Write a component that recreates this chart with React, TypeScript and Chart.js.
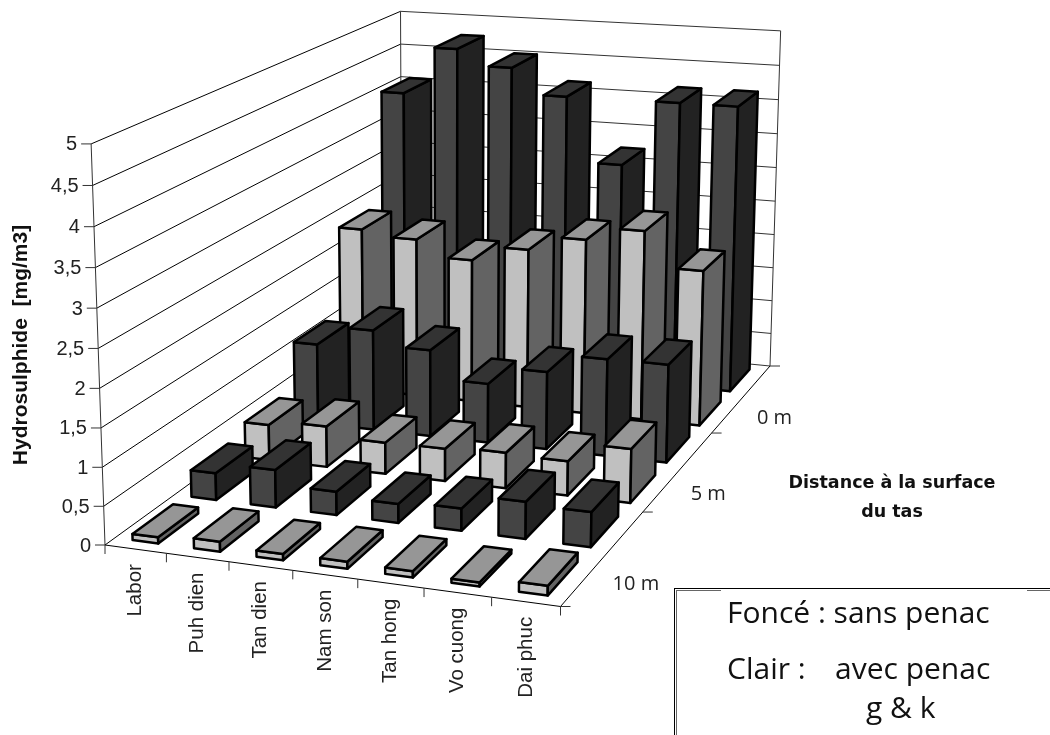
import React, { useEffect, useRef } from "react";
import { Chart, BarController, BarElement, CategoryScale, LinearScale } from "chart.js";

// ---------- data ----------
const categories = ["Labor", "Puh dien", "Tan dien", "Nam son", "Tan hong", "Vo cuong", "Dai phuc"];
const depthRows = ["10 m clair", "10 m foncé", "5 m clair", "5 m foncé", "0 m clair", "0 m foncé"];
const depthTickLabels = ["10 m", "5 m", "0 m"];
const valueTicks = ["0", "0,5", "1", "1,5", "2", "2,5", "3", "3,5", "4", "4,5", "5"];
const row10Light = [0.08, 0.13, 0.08, 0.09, 0.08, 0.05, 0.12];
const row10Dark = [0.36, 0.5, 0.31, 0.25, 0.29, 0.48, 0.45];
const row5Light = [0.49, 0.56, 0.43, 0.44, 0.48, 0.46, 0.72];
const row5Dark = [1.14, 1.42, 1.22, 0.83, 1.08, 1.34, 1.35];
const row0Light = [2.38, 2.3, 2.07, 2.29, 2.5, 2.69, 2.2];
const row0Dark = [4.04, 4.74, 4.51, 4.14, 3.2, 4.15, 4.15];
const yTitle = "Hydrosulphide  [mg/m3]";
const depthTitle = ["Distance à la surface", "du tas"];
const noteLines = ["Foncé : sans penac", "Clair :", "avec penac", "g & k"];

// ---------- projection of the unit cube (u along categories, d along depth, v along values) ----------
const A = [105, 545], B = [560.5, 606.5], C = [770, 366], D = [402, 330];
const E = [90, 143], G = [402, 10], H = [780, 33];
function makeProjection() {
  const dx1 = B[0] - C[0], dx2 = D[0] - C[0], sx = A[0] - B[0] + C[0] - D[0];
  const dy1 = B[1] - C[1], dy2 = D[1] - C[1], sy = A[1] - B[1] + C[1] - D[1];
  const den = dx1 * dy2 - dy1 * dx2;
  const g = (sx * dy2 - sy * dx2) / den, h = (dx1 * sy - dy1 * sx) / den;
  const a = B[0] - A[0] + g * B[0], b = D[0] - A[0] + h * D[0], c = A[0];
  const d = B[1] - A[1] + g * B[1], e = D[1] - A[1] + h * D[1], f = A[1];
  const wA = 1, wC = g + h + 1, wD = h + 1;
  // least squares for the vertical column (p, q, r)
  const rows: number[][] = [];
  ([[E, A, wA], [G, D, wD], [H, C, wC]] as any[]).forEach(([t, base, w]) => {
    rows.push([1, 0, -t[0], (t[0] - base[0]) * w]);
    rows.push([0, 1, -t[1], (t[1] - base[1]) * w]);
  });
  const M = [0, 1, 2].map((i) => [0, 1, 2, 3].map((k) => rows.reduce((acc, row) => acc + row[i] * row[k], 0)));
  for (let i = 0; i < 3; i++) {
    for (let m = 0; m < 3; m++) {
      if (m === i) continue;
      const ratio = M[m][i] / M[i][i];
      for (let k = 0; k < 4; k++) M[m][k] -= ratio * M[i][k];
    }
  }
  const p = M[0][3] / M[0][0], q = M[1][3] / M[1][1], r = M[2][3] / M[2][2];
  return (u: number, dd: number, v: number): [number, number] => {
    const w = g * u + h * dd + 1 + r * v;
    return [(a * u + b * dd + c + p * v) / w, (d * u + e * dd + f + q * v) / w];
  };
}
const project = makeProjection();

const BAR_WIDTH = 0.42;
const BAR_DEPTH = 0.68;
const LIGHT = { front: "#c0c0c0", side: "#636363", top: "#969696" };
const DARK = { front: "#444444", side: "#222222", top: "#333333" };
const SANS = '"Liberation Sans"';
const HUMAN = '"Open Sans"';

function norm(chart: any) {
  const { x, y, depth } = chart.scales;
  const area = chart.chartArea;
  return {
    u: (i: number) => (x.getPixelForValue(i) - area.left) / (area.right - area.left),
    d: (j: number) => (depth.getPixelForValue(j) - area.left) / (area.right - area.left),
    v: (val: number) => (area.bottom - y.getPixelForValue(val)) / (area.bottom - area.top),
  };
}

function poly(ctx: CanvasRenderingContext2D, pts: [number, number][], fill: string) {
  ctx.beginPath();
  pts.forEach((p, i) => (i ? ctx.lineTo(p[0], p[1]) : ctx.moveTo(p[0], p[1])));
  ctx.closePath();
  ctx.fillStyle = fill;
  ctx.fill();
  ctx.stroke();
}

class Box3DController extends BarController {
  static id = "box3d";
  static defaults = { ...(BarController as any).defaults };
  static overrides = (BarController as any).overrides;
  draw() {
    const chart: any = this.chart;
    const ctx: CanvasRenderingContext2D = chart.ctx;
    const n = norm(chart);
    const j = this.index;
    const faces = (this.getDataset() as any).faces;
    const halfU = BAR_WIDTH / 2, halfD = BAR_DEPTH / 2;
    ctx.save();
    ctx.strokeStyle = "#000";
    ctx.lineWidth = 2.5;
    ctx.lineJoin = "round";
    const count = this.getMeta().data.length;
    for (let i = 0; i < count; i++) {
      const parsed: any = this.getParsed(i);
      const u0 = n.u(i - halfU), u1 = n.u(i + halfU);
      const d0 = n.d(j - halfD), d1 = n.d(j + halfD);
      const v = n.v(parsed.y), b = n.v(0);
      poly(ctx, [project(u0, d0, b), project(u1, d0, b), project(u1, d0, v), project(u0, d0, v)], faces.front);
      poly(ctx, [project(u1, d0, b), project(u1, d1, b), project(u1, d1, v), project(u1, d0, v)], faces.side);
      poly(ctx, [project(u0, d0, v), project(u1, d0, v), project(u1, d1, v), project(u0, d1, v)], faces.top);
    }
    ctx.restore();
  }
}

function line(ctx: CanvasRenderingContext2D, a: number[], b: number[]) {
  ctx.beginPath();
  ctx.moveTo(a[0], a[1]);
  ctx.lineTo(b[0], b[1]);
  ctx.stroke();
}

const frame3D = {
  id: "frame3D",
  beforeDatasetsDraw(chart: any) {
    const ctx: CanvasRenderingContext2D = chart.ctx;
    const n = norm(chart);
    const uMin = n.u(-0.5), uMax = n.u(categories.length - 0.5);
    const dMin = n.d(-0.5), dMax = n.d(depthRows.length - 0.5);
    ctx.save();
    ctx.fillStyle = "#fff";
    ctx.fillRect(0, 0, chart.width, chart.height);
    ctx.lineWidth = 1;
    ctx.textBaseline = "middle";
    // wall grid
    valueTicks.forEach((label, k) => {
      const val = k * 0.5;
      const v = n.v(val);
      const p0 = project(uMin, dMin, v), p1 = project(uMin, dMax, v), p2 = project(uMax, dMax, v);
      ctx.strokeStyle = "#000";
      line(ctx, p0, p1);
      ctx.strokeStyle = "#333";
      line(ctx, p1, p2);
      ctx.strokeStyle = "#333";
      line(ctx, [p0[0] - 10, p0[1]], p0);
      ctx.fillStyle = "#222";
      ctx.font = `20px ${SANS}`;
      ctx.textAlign = "right";
      ctx.fillText(label, p0[0] - 14, p0[1] + 1);
    });
    // wall verticals
    ctx.strokeStyle = "#333";
    line(ctx, project(uMin, dMin, n.v(0)), project(uMin, dMin, n.v(5)));
    line(ctx, project(uMin, dMax, n.v(0)), project(uMin, dMax, n.v(5)));
    line(ctx, project(uMax, dMax, n.v(0)), project(uMax, dMax, n.v(5)));
    // floor edges
    ctx.strokeStyle = "#000";
    line(ctx, project(uMin, dMin, 0), project(uMax, dMin, 0));
    line(ctx, project(uMax, dMin, 0), project(uMax, dMax, 0));
    // category ticks and labels
    ctx.strokeStyle = "#333";
    for (let i = 0; i <= categories.length; i++) {
      const p = project(n.u(i - 0.5), dMin, 0);
      line(ctx, p, [p[0], p[1] + 9]);
    }
    categories.forEach((label, i) => {
      const p = project(n.u(i), dMin, 0);
      ctx.save();
      ctx.translate(p[0], p[1] + 15);
      ctx.rotate(-Math.PI / 2);
      ctx.textAlign = "right";
      ctx.fillStyle = "#222";
      ctx.font = `20.5px ${SANS}`;
      ctx.fillText(label, 0, 0);
      ctx.restore();
    });
    // depth ticks and labels
    for (let j = 0; j <= depthTickLabels.length; j++) {
      const p = project(uMax, n.d(j * 2 - 0.5), 0);
      line(ctx, p, [p[0] + 10, p[1]]);
    }
    depthTickLabels.forEach((label, j) => {
      const p = project(uMax, n.d(j * 2 + 0.5), 0);
      ctx.fillStyle = "#222";
      ctx.font = `20px ${HUMAN}`;
      ctx.textAlign = "left";
      ctx.fillText(label, p[0] + 9 + j * 3, p[1] + 27 - j * 3.5);
    });
    // titles
    ctx.fillStyle = "#111";
    ctx.font = `bold 21px ${SANS}`;
    ctx.save();
    ctx.translate(21, 345);
    ctx.rotate(-Math.PI / 2);
    ctx.textAlign = "center";
    ctx.fillText(yTitle, 0, 0);
    ctx.restore();
    ctx.font = `bold 17.5px "DejaVu Sans"`;
    ctx.textAlign = "center";
    ctx.fillText(depthTitle[0], 892, 483);
    ctx.fillText(depthTitle[1], 892, 512);
    // note box
    ctx.strokeStyle = "#000";
    ctx.lineWidth = 1;
    line(ctx, [674, 588.5], [1050, 588.5]);
    line(ctx, [674.5, 588], [674.5, 735]);
    ctx.strokeStyle = "#666";
    line(ctx, [676.5, 590], [676.5, 735]);
    line(ctx, [676, 590.5], [721, 590.5]);
    line(ctx, [1027, 590.5], [1050, 590.5]);
    ctx.fillStyle = "#111";
    ctx.font = `30px ${HUMAN}`;
    ctx.textAlign = "left";
    ctx.fillText(noteLines[0], 727, 614);
    ctx.fillText(noteLines[1], 727, 670);
    ctx.fillText(noteLines[2], 835, 670);
    ctx.fillText(noteLines[3], 866, 709);
    ctx.restore();
  },
};

Chart.register(BarController, BarElement, CategoryScale, LinearScale, Box3DController as any);

export default function App() {
  const ref = useRef<HTMLCanvasElement>(null);
  useEffect(() => {
    document.body.style.margin = "0";
    const rows = [row10Light, row10Dark, row5Light, row5Dark, row0Light, row0Dark];
    const chart = new Chart(ref.current as HTMLCanvasElement, {
      type: "box3d" as any,
      data: {
        labels: categories,
        datasets: rows.map((values, j) => ({
          label: depthRows[j],
          data: values,
          faces: j % 2 === 0 ? LIGHT : DARK,
        })) as any,
      },
      options: {
        animation: false,
        responsive: false,
        layout: { padding: 0 },
        plugins: { legend: { display: false }, tooltip: { enabled: false } },
        scales: {
          x: { type: "category", offset: true, display: false },
          y: { type: "linear", min: 0, max: 5, display: false },
          depth: { type: "category", axis: "x", labels: depthRows, offset: true, display: false },
        },
      } as any,
      plugins: [frame3D],
    });
    return () => chart.destroy();
  }, []);
  return (
    <div style={{ position: "absolute", left: 0, top: 0, width: 1050, height: 735 }}>
      <canvas ref={ref} width={1050} height={735} style={{ display: "block" }} />
    </div>
  );
}
